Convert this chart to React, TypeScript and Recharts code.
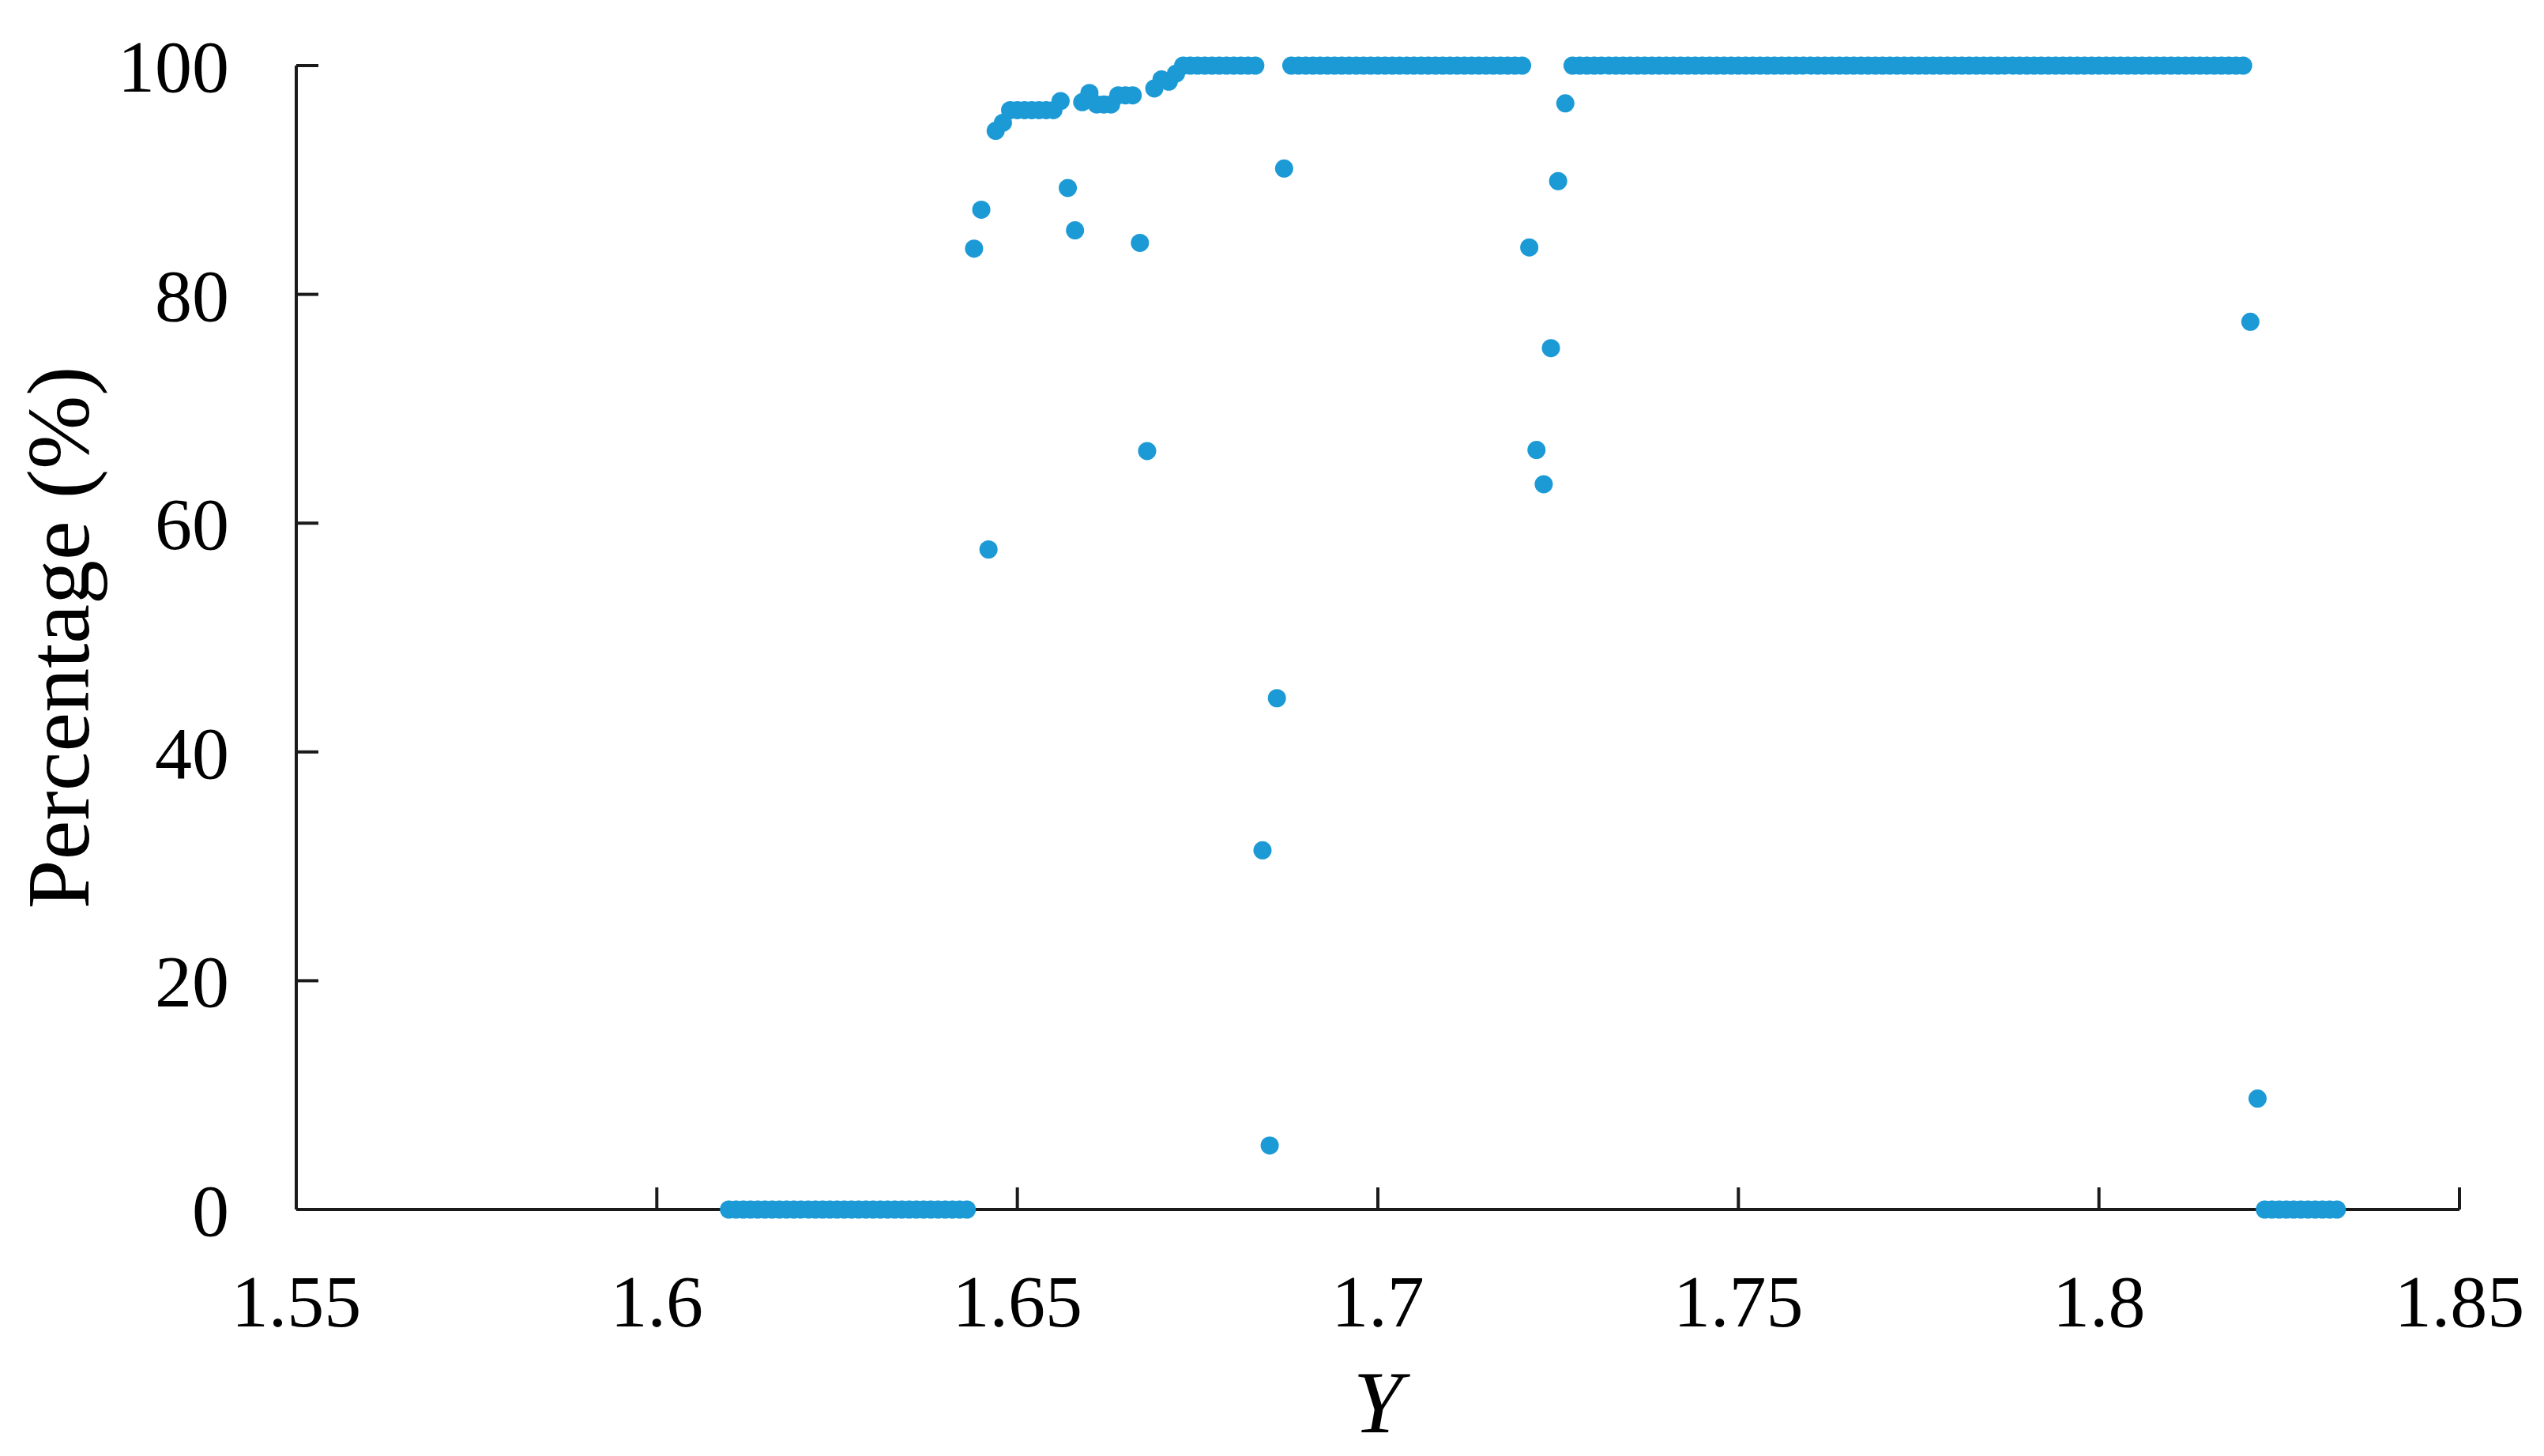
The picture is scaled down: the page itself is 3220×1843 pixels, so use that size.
import { Scatter, ScatterChart, XAxis, YAxis } from 'recharts';

// x positions (Y) of the sampled points
const Y_VALUES = [
    1.61, 1.611, 1.612, 1.613, 1.614, 1.615, 1.616, 1.617, 1.618, 1.619,
    1.62, 1.621, 1.622, 1.623, 1.624, 1.625, 1.626, 1.627, 1.628, 1.629,
    1.63, 1.631, 1.632, 1.633, 1.634, 1.635, 1.636, 1.637, 1.638, 1.639,
    1.64, 1.641, 1.642, 1.643, 1.644, 1.645, 1.646, 1.647, 1.648, 1.649,
    1.65, 1.651, 1.652, 1.653, 1.654, 1.655, 1.656, 1.657, 1.658, 1.659,
    1.66, 1.661, 1.662, 1.663, 1.664, 1.665, 1.666, 1.667, 1.668, 1.669,
    1.67, 1.671, 1.672, 1.673, 1.674, 1.675, 1.676, 1.677, 1.678, 1.679,
    1.68, 1.681, 1.682, 1.683, 1.684, 1.685, 1.686, 1.687, 1.688, 1.689,
    1.69, 1.691, 1.692, 1.693, 1.694, 1.695, 1.696, 1.697, 1.698, 1.699,
    1.7, 1.701, 1.702, 1.703, 1.704, 1.705, 1.706, 1.707, 1.708, 1.709,
    1.71, 1.711, 1.712, 1.713, 1.714, 1.715, 1.716, 1.717, 1.718, 1.719,
    1.72, 1.721, 1.722, 1.723, 1.724, 1.725, 1.726, 1.727, 1.728, 1.729,
    1.73, 1.731, 1.732, 1.733, 1.734, 1.735, 1.736, 1.737, 1.738, 1.739,
    1.74, 1.741, 1.742, 1.743, 1.744, 1.745, 1.746, 1.747, 1.748, 1.749,
    1.75, 1.751, 1.752, 1.753, 1.754, 1.755, 1.756, 1.757, 1.758, 1.759,
    1.76, 1.761, 1.762, 1.763, 1.764, 1.765, 1.766, 1.767, 1.768, 1.769,
    1.77, 1.771, 1.772, 1.773, 1.774, 1.775, 1.776, 1.777, 1.778, 1.779,
    1.78, 1.781, 1.782, 1.783, 1.784, 1.785, 1.786, 1.787, 1.788, 1.789,
    1.79, 1.791, 1.792, 1.793, 1.794, 1.795, 1.796, 1.797, 1.798, 1.799,
    1.8, 1.801, 1.802, 1.803, 1.804, 1.805, 1.806, 1.807, 1.808, 1.809,
    1.81, 1.811, 1.812, 1.813, 1.814, 1.815, 1.816, 1.817, 1.818, 1.819,
    1.82, 1.821, 1.822, 1.823, 1.824, 1.825, 1.826, 1.827, 1.828, 1.829,
    1.83, 1.831, 1.832, 1.833,
];

// percentage at each Y above (same order)
const PERCENT = [
    0, 0, 0, 0, 0, 0, 0, 0, 0, 0,
    0, 0, 0, 0, 0, 0, 0, 0, 0, 0,
    0, 0, 0, 0, 0, 0, 0, 0, 0, 0,
    0, 0, 0, 0, 84.0, 87.4, 57.7, 94.3, 95.0, 96.1,
    96.1, 96.1, 96.1, 96.1, 96.1, 96.1, 96.9, 89.3, 85.6, 96.8,
    97.6, 96.6, 96.6, 96.6, 97.4, 97.4, 97.4, 84.5, 66.3, 98.0,
    98.8, 98.6, 99.3, 100, 100, 100, 100, 100, 100, 100,
    100, 100, 100, 100, 31.4, 5.6, 44.7, 91.0, 100, 100,
    100, 100, 100, 100, 100, 100, 100, 100, 100, 100,
    100, 100, 100, 100, 100, 100, 100, 100, 100, 100,
    100, 100, 100, 100, 100, 100, 100, 100, 100, 100,
    100, 84.1, 66.4, 63.4, 75.3, 89.9, 96.7, 100, 100, 100,
    100, 100, 100, 100, 100, 100, 100, 100, 100, 100,
    100, 100, 100, 100, 100, 100, 100, 100, 100, 100,
    100, 100, 100, 100, 100, 100, 100, 100, 100, 100,
    100, 100, 100, 100, 100, 100, 100, 100, 100, 100,
    100, 100, 100, 100, 100, 100, 100, 100, 100, 100,
    100, 100, 100, 100, 100, 100, 100, 100, 100, 100,
    100, 100, 100, 100, 100, 100, 100, 100, 100, 100,
    100, 100, 100, 100, 100, 100, 100, 100, 100, 100,
    100, 100, 100, 100, 100, 100, 100, 100, 100, 100,
    100, 77.6, 9.7, 0, 0, 0, 0, 0, 0, 0,
    0, 0, 0, 0,
];

const X_TICKS = [1.55, 1.6, 1.65, 1.7, 1.75, 1.8, 1.85];
const Y_TICKS = [0, 20, 40, 60, 80, 100];

const points = Y_VALUES.map((y, i) => ({ y, pct: PERCENT[i] }));

const FONT = '"Liberation Serif", "Times New Roman", serif';
const DOT_COLOR = '#1c9ad6';
const AXIS_COLOR = '#1a1a1a';
const TICK_FONT = 94;
const TITLE_FONT = 112;
const TICK_LEN = 28;

function XTick({ x, y, payload }: any) {
    return (
        <g>
            <line x1={x} x2={x} y1={y} y2={y - TICK_LEN} stroke={AXIS_COLOR} strokeWidth={4} />
            <text x={x} y={y + 148} textAnchor="middle" fontFamily={FONT} fontSize={TICK_FONT} fill="#000">
                {String(payload.value)}
            </text>
        </g>
    );
}

function YTick({ x, y, payload }: any) {
    return (
        <g>
            <line x1={x} x2={x + TICK_LEN} y1={y} y2={y} stroke={AXIS_COLOR} strokeWidth={4} />
            <text x={x - 85} y={y} dy="0.35em" textAnchor="end" fontFamily={FONT} fontSize={TICK_FONT} fill="#000">
                {payload.value}
            </text>
        </g>
    );
}

function XTitle({ viewBox }: any) {
    return (
        <text
            x={viewBox.x + viewBox.width / 2}
            y={viewBox.y + 282}
            textAnchor="middle"
            fontFamily={FONT}
            fontStyle="italic"
            fontSize={TITLE_FONT}
            fill="#000"
        >
            Y
        </text>
    );
}

function YTitle({ viewBox }: any) {
    const cy = viewBox.y + viewBox.height / 2;
    const bx = viewBox.x + 112;
    return (
        <text
            x={bx}
            y={cy}
            transform={`rotate(-90, ${bx}, ${cy})`}
            textAnchor="middle"
            fontFamily={FONT}
            fontSize={TITLE_FONT}
            fill="#000"
        >
            Percentage (%)
        </text>
    );
}

export default function App() {
    return (
        <div style={{ position: 'absolute', left: 0, top: 0, background: '#fff' }}>
            <ScatterChart width={3220} height={1843} margin={{ top: 83, right: 107, bottom: 0, left: 0 }}>
                <XAxis
                    type="number"
                    dataKey="y"
                    domain={[1.55, 1.85]}
                    ticks={X_TICKS}
                    height={312}
                    tickSize={0}
                    tickMargin={0}
                    tickLine={false}
                    tick={<XTick />}
                    axisLine={{ stroke: AXIS_COLOR, strokeWidth: 4 }}
                    label={<XTitle />}
                />
                <YAxis
                    type="number"
                    dataKey="pct"
                    domain={[0, 100]}
                    ticks={Y_TICKS}
                    width={375}
                    tickSize={0}
                    tickMargin={0}
                    tickLine={false}
                    tick={<YTick />}
                    axisLine={{ stroke: AXIS_COLOR, strokeWidth: 4 }}
                    label={<YTitle />}
                />
                <Scatter
                    data={points}
                    isAnimationActive={false}
                    shape={(p: any) => <circle cx={p.cx} cy={p.cy} r={11.5} fill={DOT_COLOR} />}
                />
            </ScatterChart>
        </div>
    );
}
